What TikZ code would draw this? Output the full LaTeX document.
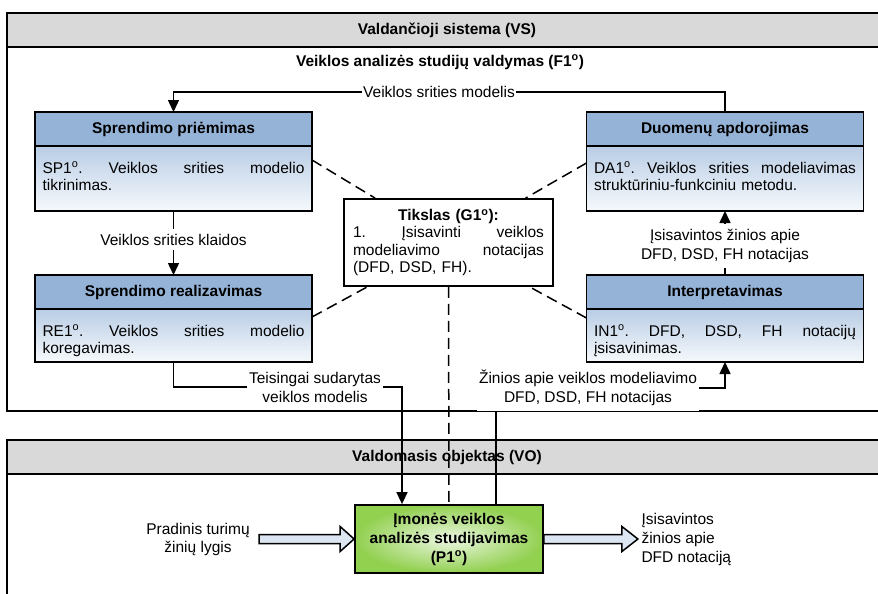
\documentclass[tikz,border=0pt]{standalone}
\usepackage{fontspec}
\setmainfont{Liberation Sans}
\usetikzlibrary{positioning,calc,arrows.meta}

\definecolor{hdrblue}{RGB}{149,179,215}
\definecolor{bodytop}{RGB}{185,205,229}
\definecolor{bodybot}{RGB}{246,249,252}
\definecolor{bandgray}{RGB}{217,217,217}
\definecolor{greenout}{RGB}{146,208,80}
\definecolor{greenin}{RGB}{236,247,226}
\definecolor{arrowfill}{RGB}{220,230,242}

\begin{document}
\begin{tikzpicture}[x=1pt,y=-1pt,
    font=\fontsize{15.5}{17.5}\selectfont,
    frame/.style={draw,line width=1.8pt},
    band/.style={draw,line width=1.8pt,fill=bandgray},
    title/.style={font=\fontsize{15.5}{17.5}\selectfont\bfseries},
    headbox/.style={draw,line width=1.8pt,fill=hdrblue,outer sep=0pt,inner sep=0pt,
        minimum width=277pt,minimum height=34pt,font=\fontsize{15.5}{17.5}\selectfont\bfseries},
    bodybox/.style={draw,line width=1.8pt,top color=bodytop,bottom color=bodybot,outer sep=0pt,
        minimum width=277pt,text width=262pt,align=left,inner xsep=7pt,inner ysep=4pt,text height=23pt},
    goalbox/.style={draw,line width=1.8pt,fill=white,text width=191pt,minimum width=209pt,
        minimum height=87pt,align=left,inner xsep=9pt},
    procbox/.style={draw,line width=1.8pt,inner color=greenin,outer color=greenout,
        minimum width=188pt,minimum height=68pt,align=center,font=\fontsize{15.5}{19}\selectfont\bfseries},
    lbl/.style={fill=white,inner xsep=2pt,inner ysep=5pt,align=center,font=\fontsize{15.5}{19}\selectfont},
    flow/.style={line width=1.5pt,-{Triangle[length=12pt,width=11pt]}},
    goal/.style={line width=1.5pt,dash pattern=on 11pt off 6pt},
    fatarrow/.style={draw,line width=1.5pt,fill=arrowfill,line join=miter}]

\clip (0,0) rectangle (878,594);
\fill[white] (0,0) rectangle (878,594);

% valdancioji sistema
\draw[frame] (7,13) rectangle (900,411);
\draw[band] (7,13) rectangle (900,47);
\node[title] (vs) at (447,30) {Valdančioji sistema (VS)};
\node[title] (f1) at (440,62) {Veiklos analizės studijų valdymas (F1\textsuperscript{o})};

% valdomasis objektas
\draw[frame] (7,440) rectangle (900,620);
\draw[band] (7,440) rectangle (900,474);
\node[title] (vo) at (447,457) {Valdomasis objektas (VO)};

% funkcijos
\node[headbox] (sprH) at (173.5,129) {Sprendimo priėmimas};
\node[bodybox,text depth=34pt,below=0pt of sprH] (spr)
    {SP1\textsuperscript{o}.\hfill Veiklos\hfill srities\hfill modelio\\tikrinimas.};
\node[headbox] (duaH) at (725,129) {Duomenų apdorojimas};
\node[bodybox,text depth=34pt,below=0pt of duaH] (dua)
    {DA1\textsuperscript{o}.\hfill Veiklos\hfill srities\hfill modeliavimas\\struktūriniu-funkciniu metodu.};
\node[headbox] (reaH) at (173.5,292) {Sprendimo realizavimas};
\node[bodybox,text depth=22pt,below=0pt of reaH] (rea)
    {RE1\textsuperscript{o}.\hfill Veiklos\hfill srities\hfill modelio\\koregavimas.};
\node[headbox] (intH) at (725,292) {Interpretavimas};
\node[bodybox,text depth=22pt,below=0pt of intH] (int)
    {IN1\textsuperscript{o}.\hfill DFD,\hfill DSD,\hfill FH\hfill notacijų\\įsisavinimas.};

\node[goalbox] (tik) at (448.5,242.5)
    {\hfill\textbf{Tikslas (G1\textsuperscript{o}):}\hfill\null\\1.\hfill Įsisavinti\hfill veiklos\\modeliavimo\hfill notacijas\\(DFD, DSD, FH).};

\node[procbox] (imo) at (449,539) {Įmonės veiklos\\analizės studijavimas\\(P1\textsuperscript{o})};

% tikslo rysiai
\draw[goal] ([yshift=-14pt]spr.north east) -- (tik);
\draw[goal] ([yshift=-17pt]dua.north west) -- (tik);
\draw[goal] ([yshift=-8pt]rea.north east) -- (tik);
\draw[goal] ([yshift=-9pt]int.north west) -- (tik);
\draw[goal] (tik.south) -- (imo.north);

% srautai
\coordinate (vsmC) at (439,92);
\draw[flow] (duaH.north) |- (vsmC) -| (sprH.north);
\node[lbl,inner xsep=1pt] (vsm) at (vsmC) {Veiklos srities modelis};

\draw[flow] (spr.south) -- (reaH.north);
\node[lbl] (vsk) at ($(spr.south)!0.45!(reaH.north)$) {Veiklos srities klaidos};

\draw[flow] (intH.north) -- (dua.south);
\node[lbl] (izn) at ($(intH.north)!0.45!(dua.south)$) {Įsisavintos žinios apie\\DFD, DSD, FH notacijas};

\coordinate (tsC) at (315,387);
\draw[flow] (rea.south) |- (tsC) -| ([xshift=-47pt]imo.north);
\node[lbl] (ts) at (tsC) {Teisingai sudarytas\\veiklos modelis};

\coordinate (zinC) at (588,388);
\draw[flow] ([xshift=47pt]imo.north) |- (zinC) -| (int.south);
\node[lbl] (zin) at (zinC) {Žinios apie veiklos modeliavimo\\DFD, DSD, FH notacijas};

% iejimas ir isejimas
\node[align=center,font=\fontsize{15.5}{18}\selectfont] (pra) at (198,539) {Pradinis turimų\\žinių lygis};
\node[align=left,anchor=west,font=\fontsize{15.5}{19}\selectfont] (isi) at (638,539) {Įsisavintos\\žinios apie\\DFD notaciją};
\draw[fatarrow] (imo.west) -- ++(-14,-12.5) -- ++(0,8) -- ++(-81,0) -- ++(0,9) -- ++(81,0) -- ++(0,8) -- cycle;
\draw[fatarrow] (imo.east) ++(0,-4.5) -- ++(78,0) -- ++(0,-8) -- ++(16,12.5) -- ++(-16,12.5) -- ++(0,-8) -- ++(-78,0) -- cycle;
\end{tikzpicture}
\end{document}
